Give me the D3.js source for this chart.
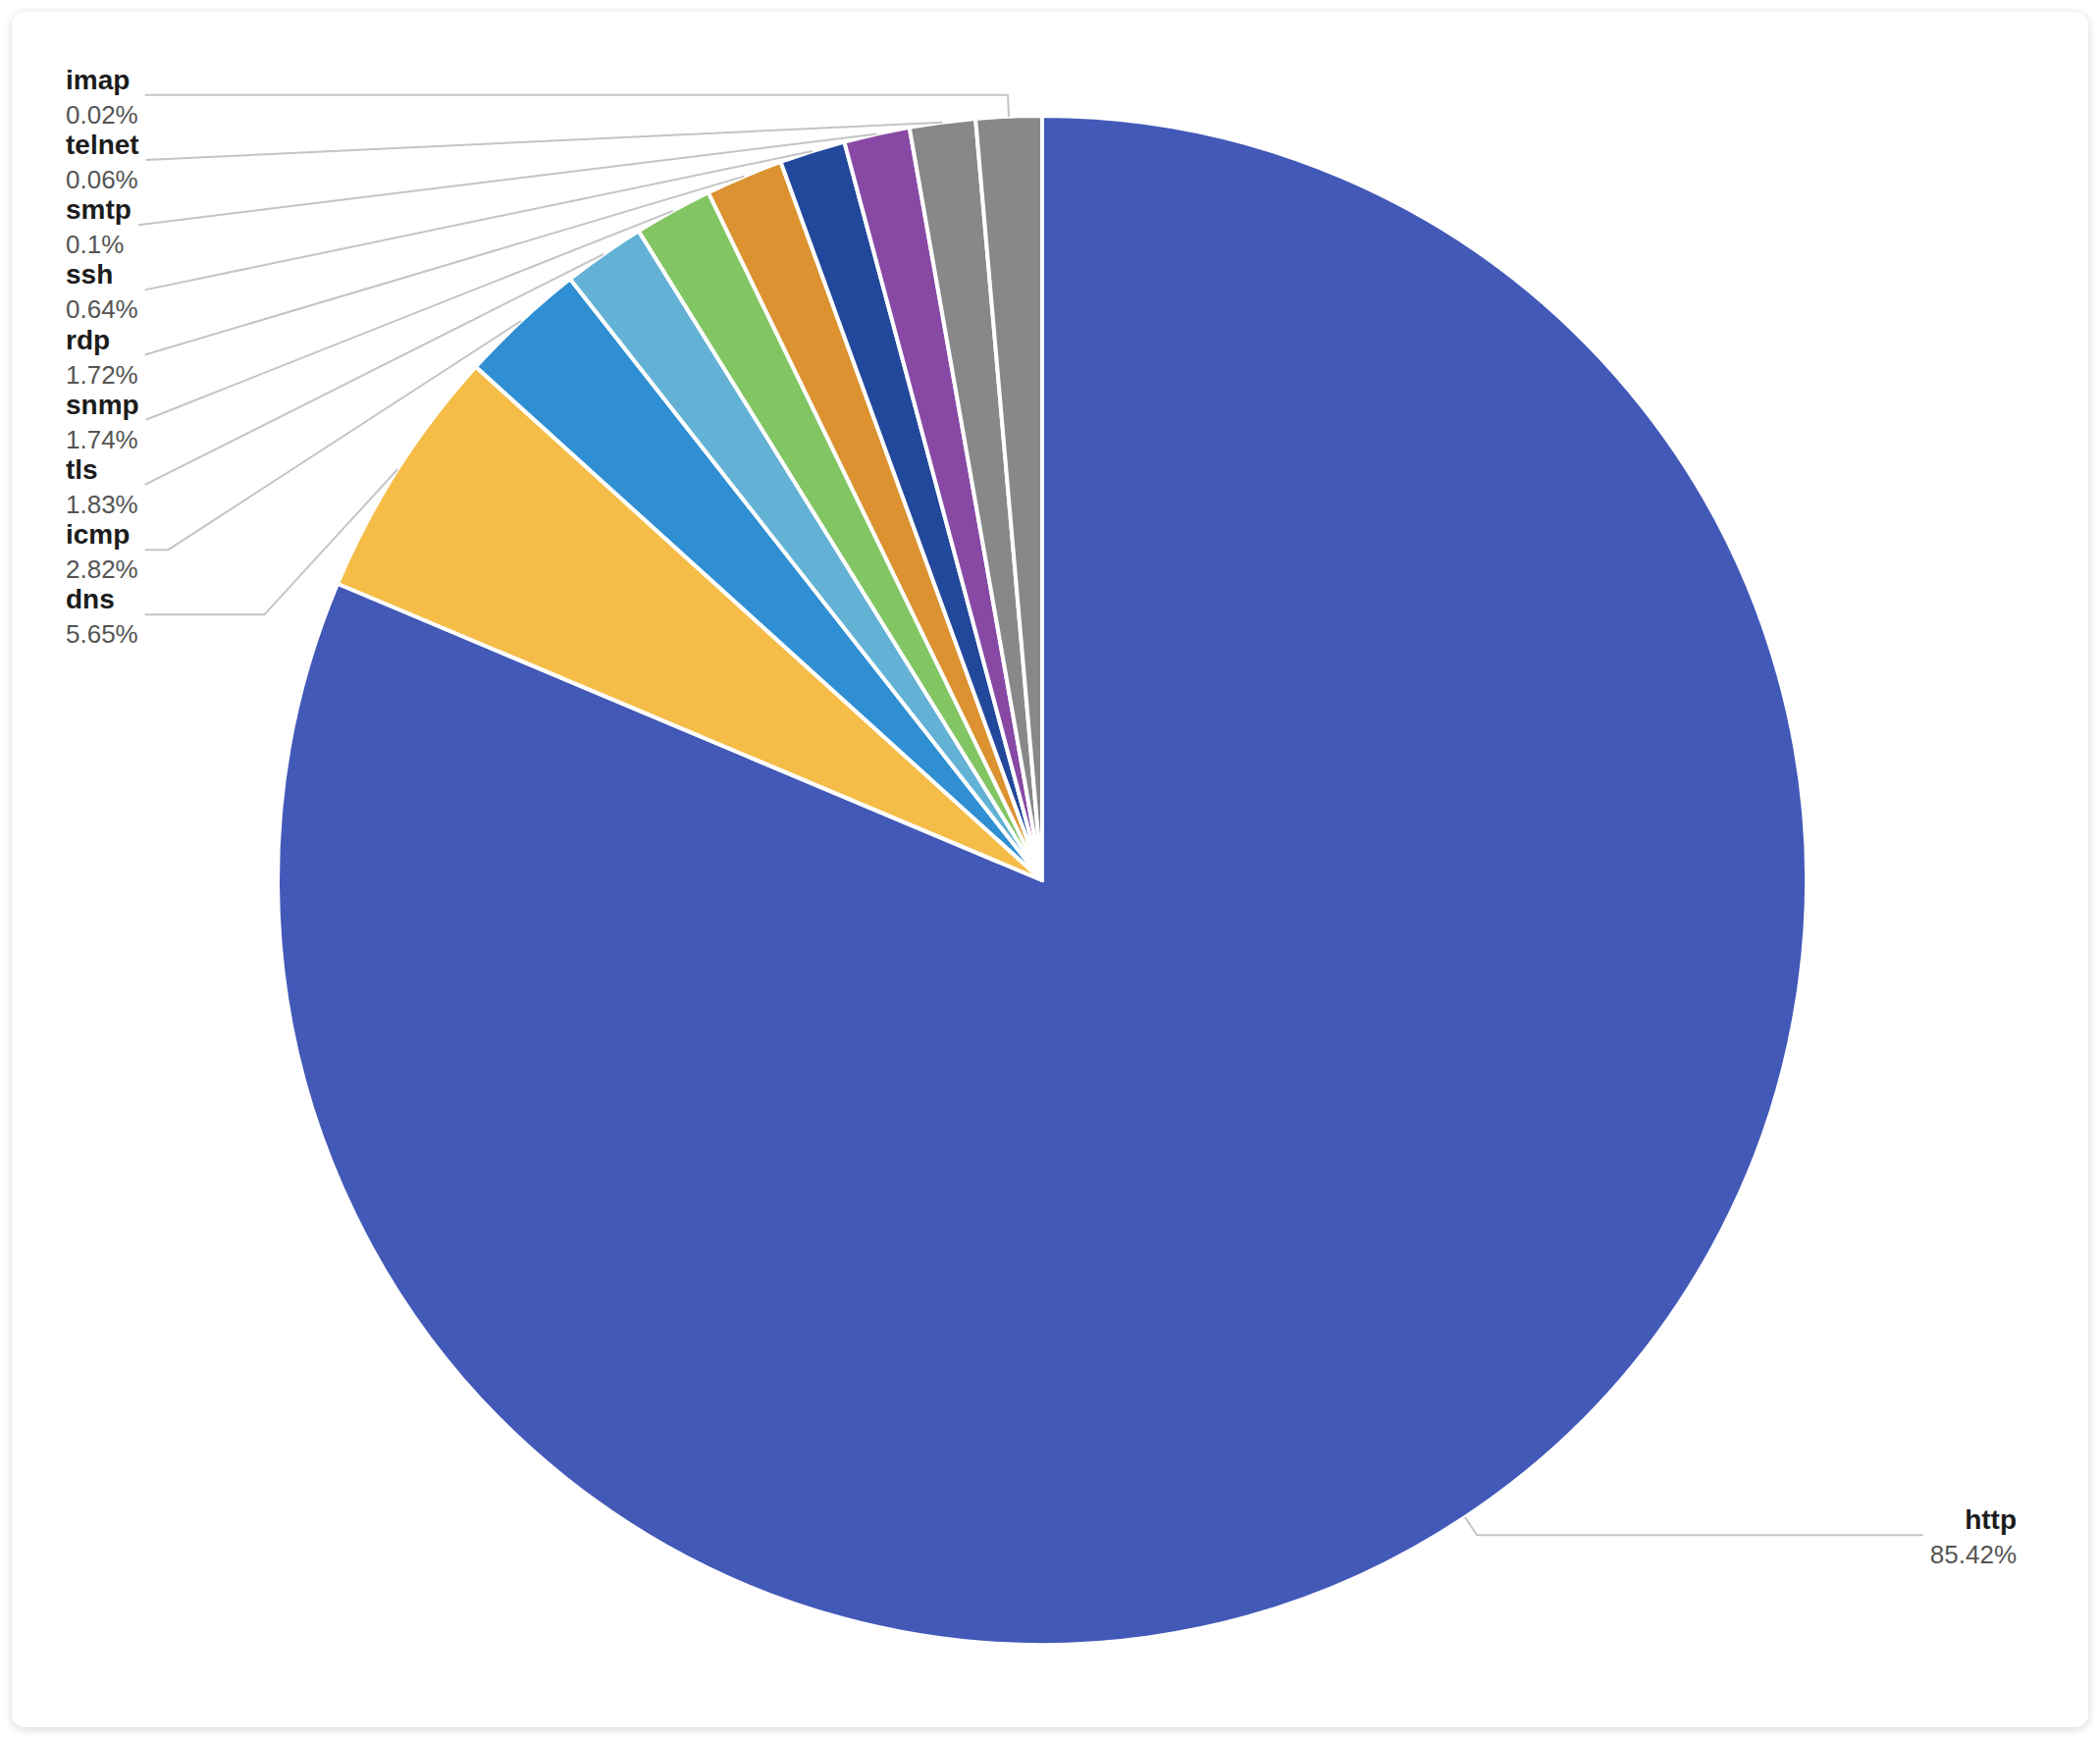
<!DOCTYPE html>
<html>
<head>
<meta charset="utf-8">
<script src="https://cdn.jsdelivr.net/npm/d3@7"></script>
<style>
  html, body { margin: 0; padding: 0; background: #ffffff; }
  svg { display: block; }
</style>
</head>
<body>
<svg id="chart" width="2140" height="1772"></svg>
<script>
// ---- data ----
const categories = ["http", "dns", "icmp", "tls", "snmp", "rdp", "ssh", "smtp", "telnet", "imap"];
const percentages = [85.42, 5.65, 2.82, 1.83, 1.74, 1.72, 0.64, 0.1, 0.06, 0.02];
const percentLabels = ["85.42%", "5.65%", "2.82%", "1.83%", "1.74%", "1.72%", "0.64%", "0.1%", "0.06%", "0.02%"];
const sliceColors = ["#4359b8", "#f5bd47", "#2f8fd2", "#63b2d6", "#82c563", "#dc9230", "#22489b", "#8849a4", "#888888", "#888888"];

// ---- layout settings ----
const W = 2140, H = 1772;
const cx = 1062, cy = 897, R = 779;
const minAngleDeg = 5;
const len1 = 22;
const labelGap = 66.2;
const leftX = 67, rightX = 2055, labelDist = 7;
const maxSurfaceAngleDeg = 80;
const nameFont = "bold 28px 'Liberation Sans', Arial, sans-serif";
const valueFont = "26px 'Liberation Sans', Arial, sans-serif";

const svg = d3.select("#chart");

// card with shadow
const defs = svg.append("defs");
const f = defs.append("filter").attr("id", "shadow").attr("x", "-5%").attr("y", "-5%").attr("width", "110%").attr("height", "110%");
f.append("feDropShadow").attr("dx", 0).attr("dy", 2).attr("stdDeviation", 5)
  .attr("flood-color", "#000").attr("flood-opacity", 0.16);
svg.append("rect").attr("x", 12).attr("y", 12).attr("width", 2116).attr("height", 1748)
  .attr("rx", 14).attr("fill", "#fff").attr("filter", "url(#shadow)");

// ---- pie ----
const data = categories.map((c, i) => ({ name: c, value: percentages[i], label: percentLabels[i], color: sliceColors[i] }));
const pie = d3.pie().sort(null).value(d => d.value).startAngle(0).endAngle(2 * Math.PI);
const arcs = pie(data);

// minimum slice angle (like ECharts minAngle)
const minA = minAngleDeg * Math.PI / 180;
let rest = 2 * Math.PI, sumBig = 0;
arcs.forEach(a => {
  const ang = a.endAngle - a.startAngle;
  if (ang < minA) { a._small = true; rest -= minA; } else { sumBig += a.value; }
});
let acc = 0;
arcs.forEach(a => {
  const ang = a._small ? minA : a.value / sumBig * rest;
  a.startAngle = acc; a.endAngle = acc + ang; acc += ang;
});

const arcGen = d3.arc().innerRadius(0).outerRadius(R);
const gPie = svg.append("g").attr("transform", `translate(${cx},${cy})`);
gPie.selectAll("path").data(arcs).join("path")
  .attr("d", arcGen)
  .attr("fill", d => d.data.color)
  .attr("stroke", "#fff")
  .attr("stroke-width", 4)
  .attr("stroke-linejoin", "round");

// ---- labels ----
arcs.forEach(a => {
  const mid = (a.startAngle + a.endAngle) / 2;
  a.n = [Math.sin(mid), -Math.cos(mid)];
  a.p0 = [cx + a.n[0] * R, cy + a.n[1] * R];
  a.p1 = [cx + a.n[0] * (R + len1), cy + a.n[1] * (R + len1)];
  a.side = a.n[0] < 0 ? -1 : 1;
  a.labelY = a.p1[1];
});
[-1, 1].forEach(side => {
  const list = arcs.filter(a => a.side === side).sort((a, b) => a.labelY - b.labelY);
  for (let i = 1; i < list.length; i++) {
    if (list[i].labelY < list[i - 1].labelY + labelGap) list[i].labelY = list[i - 1].labelY + labelGap;
  }
});

const gLab = svg.append("g");
const gLines = gLab.append("g");

function limitSurfaceAngle(pts, n, maxDeg) {
  const p0 = pts[0], p1 = pts[1], p2 = pts[2];
  let d1 = [p1[0] - p0[0], p1[1] - p0[1]], d2 = [p2[0] - p1[0], p2[1] - p1[1]];
  const l1 = Math.hypot(d1[0], d1[1]), l2 = Math.hypot(d2[0], d2[1]);
  if (l1 < 1e-3 || l2 < 1e-3) return;
  d1 = [d1[0] / l1, d1[1] / l1]; d2 = [d2[0] / l2, d2[1] / l2];
  const angleCos = d1[0] * n[0] + d1[1] * n[1];
  const maxRad = maxDeg * Math.PI / 180;
  if (angleCos < Math.cos(maxRad)) {
    const t0 = (p0[0] - p1[0]) * d2[0] + (p0[1] - p1[1]) * d2[1];
    let proj = [p1[0] + d2[0] * t0, p1[1] + d2[1] * t0];
    const d = Math.hypot(p0[0] - proj[0], p0[1] - proj[1]);
    const angle2 = Math.acos(d2[0] * n[0] + d2[1] * n[1]);
    const newAngle = Math.PI / 2 + angle2 - maxRad;
    if (newAngle >= Math.PI / 2) {
      proj = p2.slice();
    } else {
      const k = d / Math.tan(Math.PI / 2 - newAngle);
      proj = [proj[0] + d2[0] * k, proj[1] + d2[1] * k];
      const t = p2[0] !== p1[0] ? (proj[0] - p1[0]) / (p2[0] - p1[0]) : (proj[1] - p1[1]) / (p2[1] - p1[1]);
      if (t < 0) proj = p1.slice(); else if (t > 1) proj = p2.slice();
    }
    pts[1] = proj;
  }
}

arcs.forEach(a => {
  const anchor = a.side < 0 ? "start" : "end";
  const tx = a.side < 0 ? leftX : rightX;
  const nameT = gLab.append("text")
    .attr("x", tx).attr("y", a.labelY - 6)
    .attr("text-anchor", anchor)
    .style("font", nameFont).attr("fill", "#1c1c1c")
    .text(a.data.name);
  const valT = gLab.append("text")
    .attr("x", tx).attr("y", a.labelY + 29)
    .attr("text-anchor", anchor)
    .style("font", valueFont).attr("fill", "#555")
    .text(a.data.label);
  const tw = Math.max(nameT.node().getComputedTextLength(), valT.node().getComputedTextLength());
  const p2x = a.side < 0 ? leftX + tw + labelDist : rightX - tw - labelDist;
  const pts = [a.p0.slice(), [a.p1[0], a.labelY], [p2x, a.labelY]];
  limitSurfaceAngle(pts, a.n, maxSurfaceAngleDeg);
  gLines.append("polyline")
    .attr("points", pts.map(p => p.join(",")).join(" "))
    .attr("fill", "none")
    .attr("stroke", "#c4c4c4")
    .attr("stroke-width", 2);
});
</script>
</body>
</html>
